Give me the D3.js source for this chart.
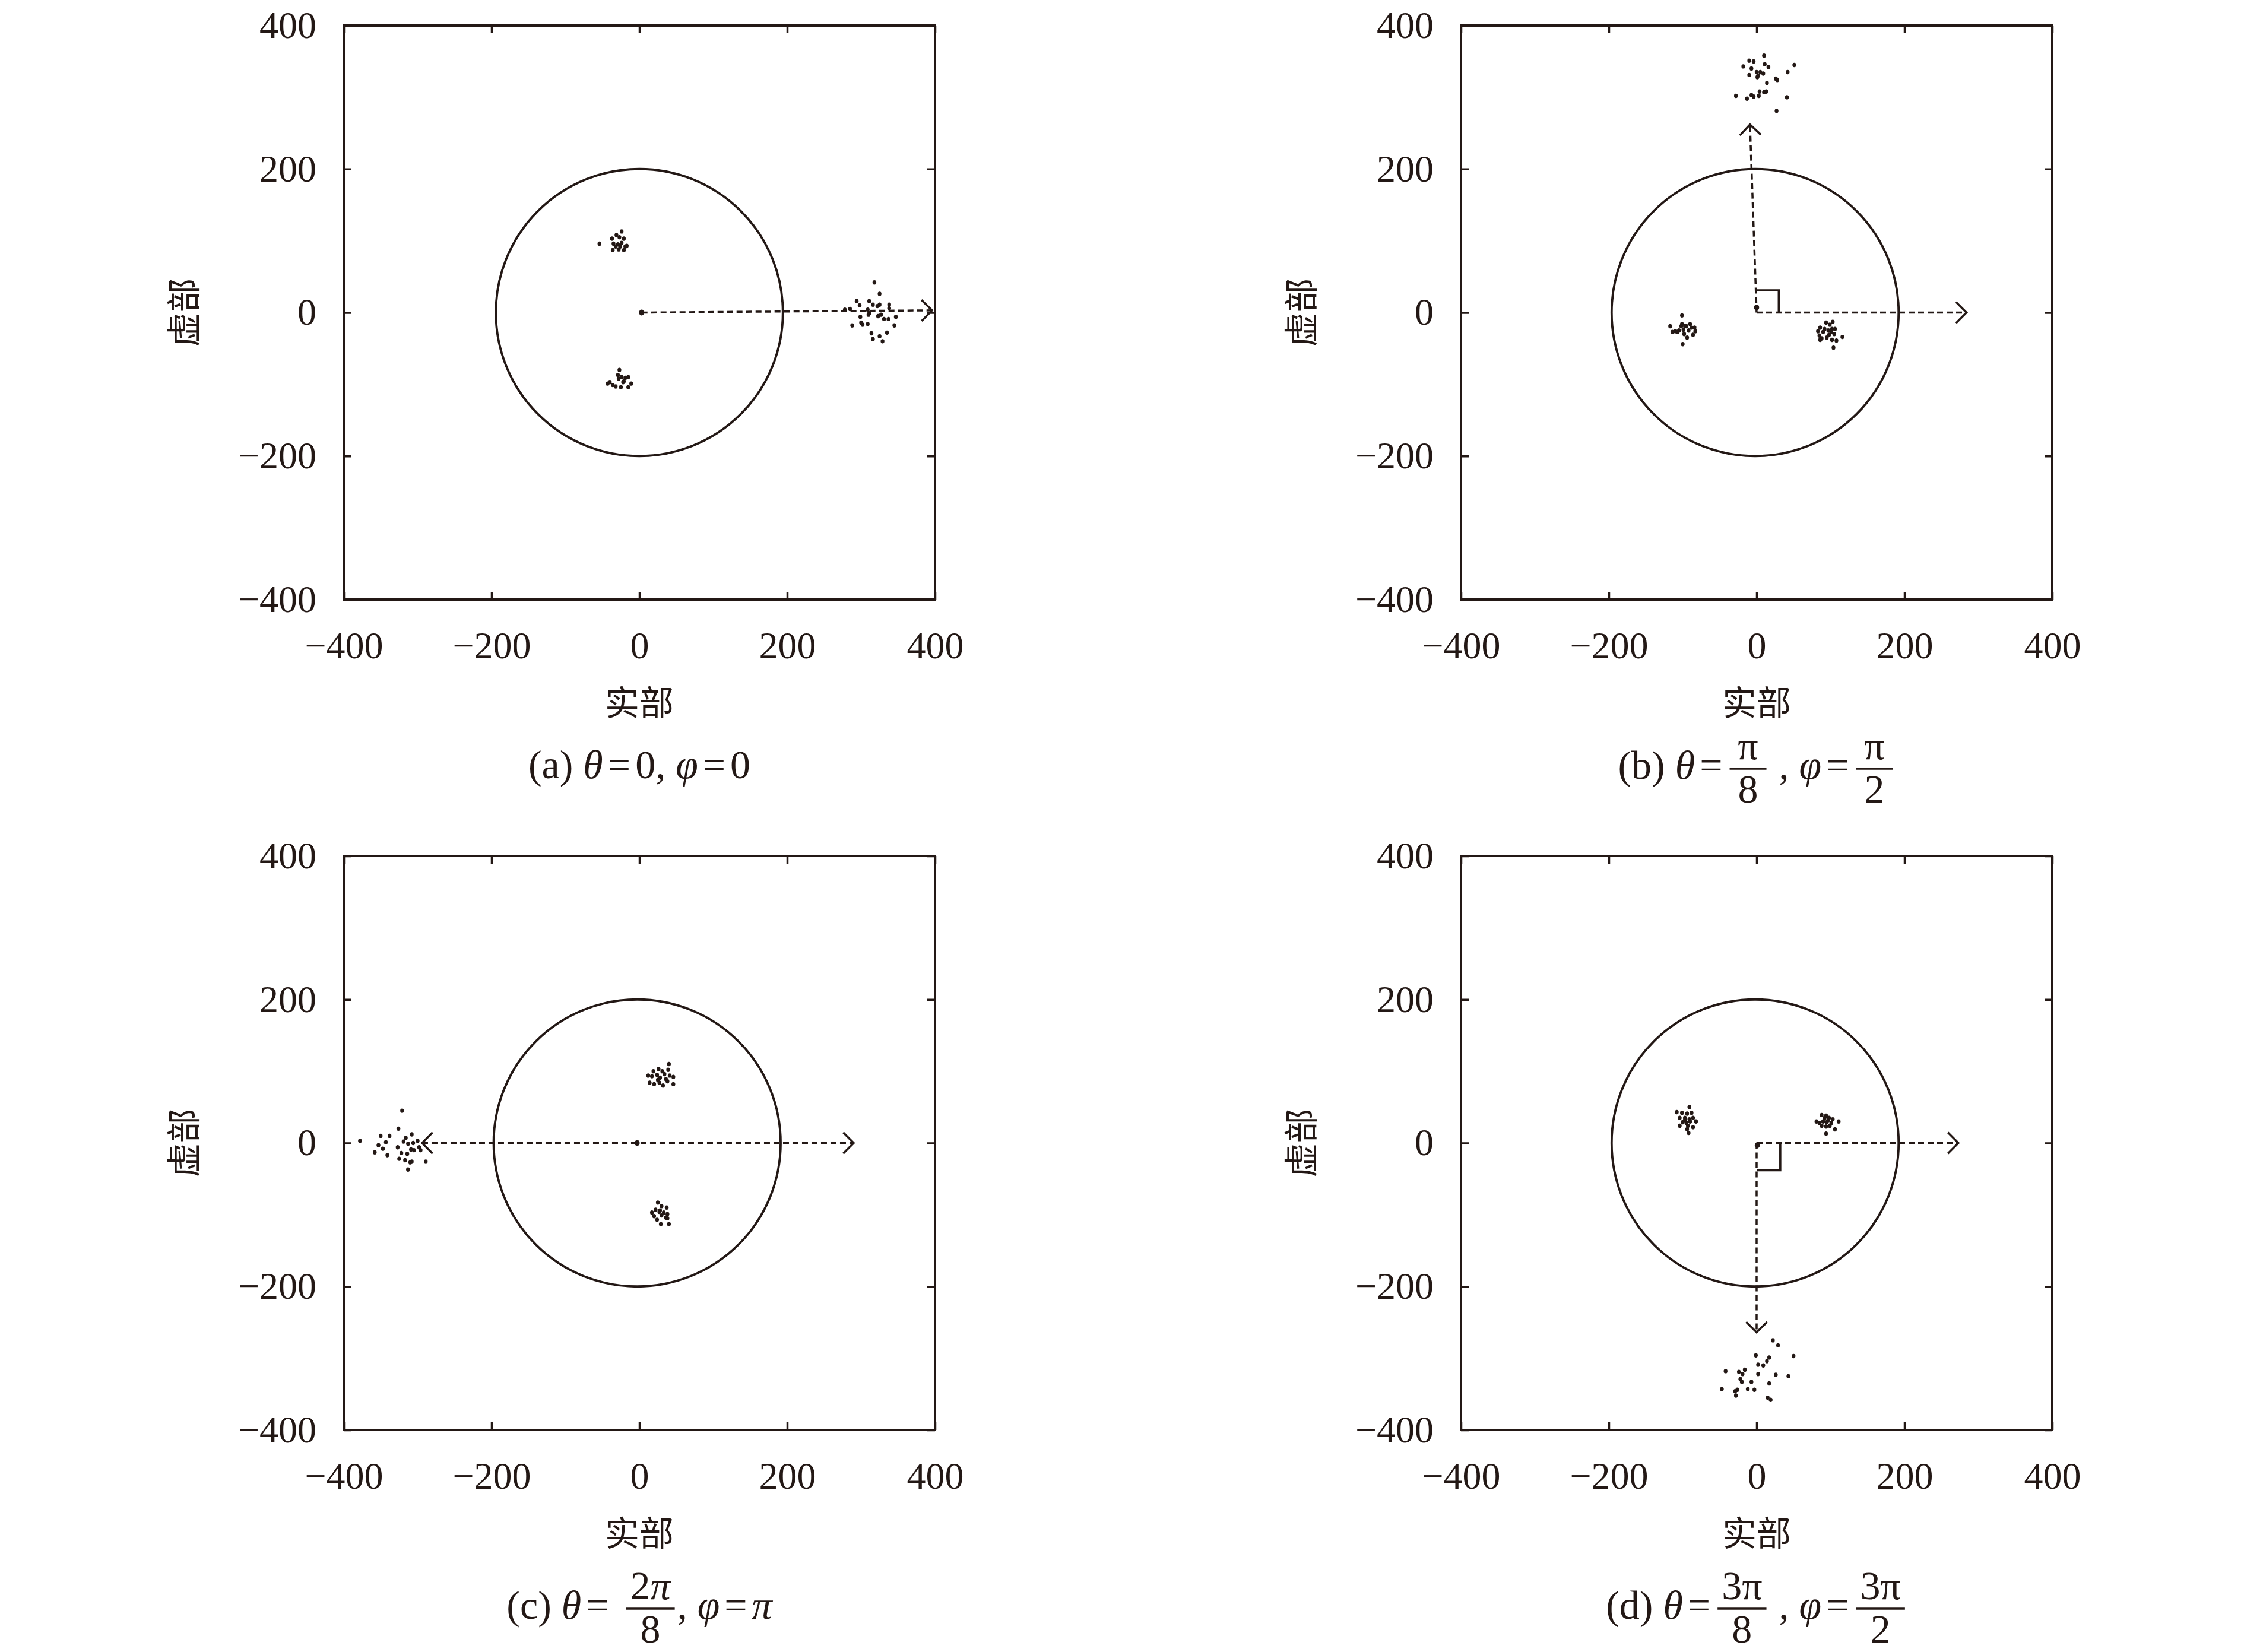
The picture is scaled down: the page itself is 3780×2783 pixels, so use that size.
<!DOCTYPE html>
<html lang="zh">
<head>
<meta charset="UTF-8">
<title>星座图</title>
<script src="https://d3js.org/d3.v7.min.js"></script>
<style>
    html, body { margin: 0; padding: 0; background: #fff; }
    svg { display: block; }
    text { fill: #231815; }
</style>
</head>
<body>
<svg></svg>
<script>
    // axes
    const axisTicks = [-400, -200, 0, 200, 400];
    const xTitle = "实部";
    const yTitle = "虚部";
    const circleRadius = 200;

    // (a) theta=0, phi=0
    const ptsA = [
        [-54,96],[-24,113],[-31,108],[-37,103],[-27,105],[-21,103],[-35,96],[-29,95],[-24,97],[-19,92],
        [-36,87],[-28,88],[-21,87],[-32,92],[-26,92],[-17,93],
        [-27,-80],[-29,-87],[-24,-90],[-19,-91],[-15,-90],[-40,-97],[-43,-99],[-36,-101],[-32,-103],
        [-25,-104],[-21,-96],[-15,-104],[-11,-99],[-28,-92],[-22,-97],
        [318,42],[325,26],[294,16],[298,10],[311,16],[316,11],[322,9],[325,11],[338,11],[338,6],
        [278,4],[285,5],[309,4],[311,-1],[310,-3],[299,-6],[323,-5],[327,-3],[347,-6],[331,-9],
        [337,-9],[300,-14],[302,-17],[309,-16],[288,-18],[345,-18],[314,-29],[335,-28],[316,-37],
        [325,-33],[329,-40]
    ];
    const originA = [3, 0];
    const centerA = [0, 0];
    const arrowsA = [{ from: [3, 0], to: [396, 3], both: false }];
    const cornerA = null;
    const captionA = ["(a) ", "$θ", "=", "0, ", "$φ", "=", "0"];

    // (b) theta=pi/8, phi=pi/2
    const ptsB = [
        [-101,-4],[-117,-19],[-114,-27],[-110,-26],[-105,-25],[-102,-19],[-101,-16],[-99,-24],[-95,-19],
        [-90,-16],[-88,-21],[-84,-21],[-83,-26],[-92,-25],[-98,-30],[-94,-35],[-86,-31],[-100,-44],
        [-107,-27],[-97,-19],
        [103,-13],[94,-14],[99,-17],[86,-21],[92,-23],[97,-25],[102,-23],[106,-23],[83,-26],[90,-27],
        [101,-27],[105,-30],[85,-32],[88,-36],[95,-35],[102,-38],[108,-39],[116,-34],[104,-49],[86,-38],
        [98,-31],
        [10,358],[-10,351],[-4,350],[-18,343],[-7,340],[11,346],[16,342],[51,345],[42,335],[0,335],
        [5,335],[9,333],[2,330],[-10,331],[1,328],[26,326],[28,324],[14,320],[-28,302],[-13,298],
        [-7,303],[-4,301],[3,302],[4,308],[10,307],[13,308],[41,300],[27,281]
    ];
    const originB = [0, 7];
    const centerB = [-2, 0];
    const arrowsB = [
        { from: [0, 0], to: [284, 0], both: false },
        { from: [0, 0], to: [-9, 262], both: false }
    ];
    const cornerB = [30, 31];
    const captionB = ["(b) ", "$θ", "=", { n: ["π"], d: ["8"] }, " , ", "$φ", "=", { n: ["π"], d: ["2"] }];

    // (c) theta=2pi/8, phi=pi
    const ptsC = [
        [40,110],[26,103],[19,100],[31,100],[39,102],[12,94],[17,93],[24,95],[34,96],[46,92],
        [28,91],[36,89],[25,88],[38,86],[14,84],[20,82],[27,84],[32,80],[46,82],[41,94],
        [25,-83],[30,-88],[37,-90],[22,-93],[17,-97],[27,-96],[33,-97],[38,-99],[20,-102],[30,-101],
        [36,-104],[24,-107],[38,-105],[29,-113],[40,-113],[28,-94],
        [-321,45],[-326,20],[-378,3],[-350,10],[-338,10],[-308,12],[-316,7],[-319,2],[-300,3],[-306,0],
        [-313,-1],[-343,1],[-353,-3],[-347,-8],[-358,-13],[-327,-6],[-322,-14],[-314,-15],[-309,-9],
        [-305,-10],[-298,-6],[-296,-10],[-341,-17],[-325,-22],[-317,-24],[-310,-27],[-308,-26],
        [-289,-26],[-313,-37]
    ];
    const originC = [-3, 0];
    const centerC = [-3, 0];
    const arrowsC = [{ from: [-294, 0], to: [290, 0], both: true }];
    const cornerC = null;
    const captionC = ["(c) ", "$θ", "= ", { n: ["2", "$π"], d: ["8"] }, ", ", "$φ", "=", "$π"];

    // (d) theta=3pi/8, phi=3pi/2
    const ptsD = [
        [-91,50],[-108,43],[-101,42],[-94,41],[-88,42],[-104,35],[-97,35],[-91,33],[-86,35],[-82,30],
        [-100,29],[-95,28],[-90,30],[-104,24],[-93,24],[-86,22],[-94,19],[-92,14],[-97,32],
        [88,39],[94,38],[98,35],[103,33],[111,30],[81,30],[85,28],[90,30],[95,29],[101,28],
        [88,24],[94,23],[99,24],[106,19],[94,13],[97,32],[92,35],
        [22,-275],[29,-282],[50,-297],[-1,-296],[17,-299],[14,-304],[2,-309],[9,-310],[-42,-318],
        [-24,-319],[-16,-316],[-19,-322],[2,-322],[26,-323],[43,-325],[-22,-329],[-20,-333],[-7,-333],
        [17,-335],[-47,-343],[-12,-343],[-3,-344],[-29,-346],[-26,-344],[-28,-352],[15,-355],[19,-358]
    ];
    const originD = [1, -3];
    const centerD = [-2, 0];
    const arrowsD = [
        { from: [0, 0], to: [273, 0], both: false },
        { from: [0, 0], to: [0, -264], both: false }
    ];
    const cornerD = [32, -38];
    const captionD = ["(d) ", "$θ", "=", { n: ["3π"], d: ["8"] }, " , ", "$φ", "=", { n: ["3π"], d: ["2"] }];

    const W = 3780, H = 2783;
    const plotW = 996, plotH = 967;
    const ink = "#231815";
    const serif = "'Liberation Serif', 'Times New Roman', serif";
    const cjk = "'Noto Sans CJK SC', sans-serif";

    const panels = [
        { left: 579,  top: 43,   pts: ptsA, origin: originA, center: centerA, arrows: arrowsA, corner: cornerA, caption: captionA, capY: 301 },
        { left: 2461, top: 43,   pts: ptsB, origin: originB, center: centerB, arrows: arrowsB, corner: cornerB, caption: captionB, capY: 302 },
        { left: 579,  top: 1442, pts: ptsC, origin: originC, center: centerC, arrows: arrowsC, corner: cornerC, caption: captionC, capY: 318 },
        { left: 2461, top: 1442, pts: ptsD, origin: originD, center: centerD, arrows: arrowsD, corner: cornerD, caption: captionD, capY: 318 }
    ];

    const svg = d3.select("svg").attr("width", W).attr("height", H);
    svg.append("rect").attr("width", W).attr("height", H).attr("fill", "#fff");

    const x = d3.scaleLinear().domain([-400, 400]).range([0, plotW]);
    const y = d3.scaleLinear().domain([-400, 400]).range([plotH, 0]);

    // arrowhead chevron at the tip, pointing along ang
    function chevron(px, py, ang) {
        const L = 25;
        const a1 = ang + Math.PI * 0.75, a2 = ang - Math.PI * 0.75;
        return `M${px + L * Math.cos(a1)},${py + L * Math.sin(a1)}L${px},${py}L${px + L * Math.cos(a2)},${py + L * Math.sin(a2)}`;
    }

    // piece of text, "$" prefix = italic
    function addPiece(sel, s) {
        const it = s.startsWith("$");
        return sel.append("tspan")
            .attr("font-style", it ? "italic" : "normal")
            .text((it ? s.slice(1) : s).replace(/ /g, "\u00A0"));
    }

    function drawCaption(g, tokens, cx, base) {
        const cg = g.append("g")
            .attr("font-family", serif)
            .attr("font-size", 68)
            .attr("fill", ink);
        let cur = 0;
        tokens.forEach(tk => {
            if (typeof tk === "object") {
                const num = cg.append("text").attr("y", base - 33).attr("text-anchor", "middle");
                tk.n.forEach(s => addPiece(num, s));
                const den = cg.append("text").attr("y", base + 40).attr("text-anchor", "middle");
                tk.d.forEach(s => addPiece(den, s));
                const w = Math.max(62, Math.max(num.node().getComputedTextLength(), den.node().getComputedTextLength()) + 14);
                cur += 4;
                num.attr("x", cur + w / 2);
                den.attr("x", cur + w / 2);
                cg.append("line")
                    .attr("x1", cur).attr("x2", cur + w)
                    .attr("y1", base - 17).attr("y2", base - 17)
                    .attr("stroke", ink).attr("stroke-width", 3.5);
                cur += w + 4;
            } else {
                const eq = tk.startsWith("=");
                if (eq) cur += 8;
                const t = cg.append("text").attr("x", cur).attr("y", base);
                addPiece(t, tk);
                cur += t.node().getComputedTextLength();
                if (eq) cur += 8;
            }
        });
        cg.attr("transform", `translate(${cx - cur / 2},0)`);
    }

    panels.forEach(p => {
        const g = svg.append("g").attr("transform", `translate(${p.left},${p.top})`);

        // ticks on all four sides, pointing inward
        const axes = [
            { ax: d3.axisBottom(x).tickPadding(54), tr: `translate(0,${plotH})` },
            { ax: d3.axisLeft(y).tickPadding(46), tr: null },
            { ax: d3.axisTop(x).tickFormat(() => ""), tr: null },
            { ax: d3.axisRight(y).tickFormat(() => ""), tr: `translate(${plotW},0)` }
        ];
        axes.forEach(a => {
            const ag = g.append("g");
            if (a.tr) ag.attr("transform", a.tr);
            ag.call(a.ax.tickValues(axisTicks).tickSizeInner(-13).tickSizeOuter(0));
            ag.select(".domain").remove();
            ag.selectAll(".tick line").attr("stroke", ink).attr("stroke-width", 3.5);
            ag.selectAll(".tick text")
                .attr("fill", ink)
                .attr("font-family", serif)
                .attr("font-size", 64);
        });

        g.append("rect")
            .attr("width", plotW).attr("height", plotH)
            .attr("fill", "none").attr("stroke", ink).attr("stroke-width", 4);

        // unit circle
        g.append("circle")
            .attr("cx", x(p.center[0])).attr("cy", y(p.center[1]))
            .attr("r", y(0) - y(circleRadius))
            .attr("fill", "none").attr("stroke", ink).attr("stroke-width", 3.8);

        // dashed arrows
        p.arrows.forEach(a => {
            const x1 = x(a.from[0]), y1 = y(a.from[1]), x2 = x(a.to[0]), y2 = y(a.to[1]);
            const ang = Math.atan2(y2 - y1, x2 - x1);
            g.append("line")
                .attr("x1", x1).attr("y1", y1).attr("x2", x2).attr("y2", y2)
                .attr("stroke", ink).attr("stroke-width", 3.5)
                .attr("stroke-dasharray", "10,6");
            g.append("path").attr("d", chevron(x2, y2, ang))
                .attr("fill", "none").attr("stroke", ink).attr("stroke-width", 3.5);
            if (a.both) {
                g.append("path").attr("d", chevron(x1, y1, ang + Math.PI))
                    .attr("fill", "none").attr("stroke", ink).attr("stroke-width", 3.5);
            }
        });

        // right angle mark
        if (p.corner) {
            const c = p.corner;
            g.append("path")
                .attr("d", d3.line()([[x(0), y(c[1])], [x(c[0]), y(c[1])], [x(c[0]), y(0)]]))
                .attr("fill", "none").attr("stroke", ink).attr("stroke-width", 3.6);
        }

        // received symbols
        g.append("g").selectAll("ellipse")
            .data(p.pts)
            .join("ellipse")
            .attr("cx", d => x(d[0])).attr("cy", d => y(d[1]))
            .attr("rx", 3.2).attr("ry", 3.7)
            .attr("fill", ink);

        g.append("ellipse")
            .attr("cx", x(p.origin[0])).attr("cy", y(p.origin[1]))
            .attr("rx", 4.3).attr("ry", 5)
            .attr("fill", ink);

        // axis titles
        g.append("text")
            .attr("x", plotW / 2).attr("y", plotH + 170)
            .attr("text-anchor", "middle").attr("dominant-baseline", "central")
            .attr("font-family", cjk).attr("font-size", 58)
            .attr("fill", ink)
            .text(xTitle);
        g.append("text")
            .attr("transform", `translate(-273,${plotH / 2}) rotate(-90)`)
            .attr("text-anchor", "middle").attr("dominant-baseline", "central")
            .attr("font-family", cjk).attr("font-size", 58)
            .attr("fill", ink)
            .text(yTitle);

        drawCaption(g, p.caption, plotW / 2, plotH + p.capY);
    });
</script>
</body>
</html>
